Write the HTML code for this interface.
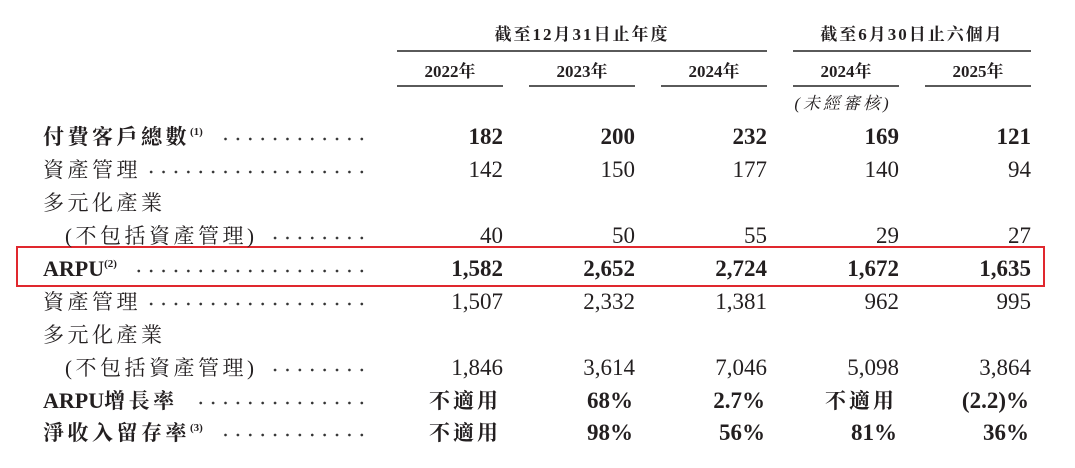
<!DOCTYPE html>
<html><head><meta charset="utf-8">
<style>
body{margin:0;background:#fff;}
#c{position:relative;width:1075px;height:468px;overflow:hidden;background:#fff;color:#231f20;font-family:"Liberation Serif","Noto Serif CJK SC",serif;}
.t{position:absolute;white-space:nowrap;line-height:30px;height:30px;}
.n{position:absolute;white-space:nowrap;line-height:30px;height:30px;text-align:right;width:130px;font-size:23px;}
.b{font-weight:bold;}
.l{font-size:21px;letter-spacing:3.5px;}
.ln{position:absolute;height:2px;background:#5a5a5a;}
.d{position:absolute;height:30px;background-image:radial-gradient(circle,#333 1.1px,transparent 1.6px);background-size:12.4px 30px;background-repeat:repeat-x;background-position:right 2px;}
sup{font-size:11px;letter-spacing:0;vertical-align:9px;line-height:0;}
.h{font-size:17px;font-weight:bold;text-align:center;}
.la{letter-spacing:0;font-size:22px;}
</style></head><body><div id="c">
<div class="t h" style="left:397px;width:370px;top:20px;letter-spacing:2px;">截至12月31日止年度</div>
<div class="t h" style="left:793px;width:238px;top:20px;letter-spacing:2px;">截至6月30日止六個月</div>
<div class="ln" style="left:397px;width:370px;top:50px;"></div>
<div class="ln" style="left:793px;width:238px;top:50px;"></div>
<div class="t h" style="left:397px;width:106px;top:57px;">2022年</div>
<div class="t h" style="left:529px;width:106px;top:57px;">2023年</div>
<div class="t h" style="left:661px;width:106px;top:57px;">2024年</div>
<div class="t h" style="left:793px;width:106px;top:57px;">2024年</div>
<div class="t h" style="left:925px;width:106px;top:57px;">2025年</div>
<div class="ln" style="left:397px;width:106px;top:85px;"></div>
<div class="ln" style="left:529px;width:106px;top:85px;"></div>
<div class="ln" style="left:661px;width:106px;top:85px;"></div>
<div class="ln" style="left:793px;width:106px;top:85px;"></div>
<div class="ln" style="left:925px;width:106px;top:85px;"></div>
<div class="t" style="left:790px;width:106px;top:89px;text-align:center;font-size:17px;font-style:italic;letter-spacing:3px;">(未經審核)</div>

<div style="position:absolute;left:16px;top:246px;width:1025px;height:37px;border:2px solid #e0282e;"></div>

<div class="t l b" style="left:43px;top:122px;">付費客戶總數<sup>(1)</sup></div><div class="d" style="left:218px;width:150px;top:122px;"></div>
<div class="t l" style="left:43px;top:155px;">資產管理</div><div class="d" style="left:143px;width:225px;top:155px;"></div>
<div class="t l" style="left:43px;top:188px;">多元化產業</div>
<div class="t l" style="left:65px;top:221px;">(不包括資產管理)</div><div class="d" style="left:272px;width:96px;top:221px;"></div>
<div class="t l b" style="left:43px;top:254px;"><span class="la">ARPU</span><sup>(2)</sup></div><div class="d" style="left:128px;width:240px;top:254px;"></div>
<div class="t l" style="left:43px;top:287px;">資產管理</div><div class="d" style="left:143px;width:225px;top:287px;"></div>
<div class="t l" style="left:43px;top:320px;">多元化產業</div>
<div class="t l" style="left:65px;top:353px;">(不包括資產管理)</div><div class="d" style="left:272px;width:96px;top:353px;"></div>
<div class="t l b" style="left:43px;top:386px;"><span class="la">ARPU</span>增長率</div><div class="d" style="left:190px;width:178px;top:386px;"></div>
<div class="t l b" style="left:43px;top:418px;">淨收入留存率<sup>(3)</sup></div><div class="d" style="left:218px;width:150px;top:418px;"></div>

<div class="n b" style="left:373px;top:122px;">182</div>
<div class="n b" style="left:505px;top:122px;">200</div>
<div class="n b" style="left:637px;top:122px;">232</div>
<div class="n b" style="left:769px;top:122px;">169</div>
<div class="n b" style="left:901px;top:122px;">121</div>

<div class="n" style="left:373px;top:155px;">142</div>
<div class="n" style="left:505px;top:155px;">150</div>
<div class="n" style="left:637px;top:155px;">177</div>
<div class="n" style="left:769px;top:155px;">140</div>
<div class="n" style="left:901px;top:155px;">94</div>

<div class="n" style="left:373px;top:221px;">40</div>
<div class="n" style="left:505px;top:221px;">50</div>
<div class="n" style="left:637px;top:221px;">55</div>
<div class="n" style="left:769px;top:221px;">29</div>
<div class="n" style="left:901px;top:221px;">27</div>

<div class="n b" style="left:373px;top:254px;">1,582</div>
<div class="n b" style="left:505px;top:254px;">2,652</div>
<div class="n b" style="left:637px;top:254px;">2,724</div>
<div class="n b" style="left:769px;top:254px;">1,672</div>
<div class="n b" style="left:901px;top:254px;">1,635</div>

<div class="n" style="left:373px;top:287px;">1,507</div>
<div class="n" style="left:505px;top:287px;">2,332</div>
<div class="n" style="left:637px;top:287px;">1,381</div>
<div class="n" style="left:769px;top:287px;">962</div>
<div class="n" style="left:901px;top:287px;">995</div>

<div class="n" style="left:373px;top:353px;">1,846</div>
<div class="n" style="left:505px;top:353px;">3,614</div>
<div class="n" style="left:637px;top:353px;">7,046</div>
<div class="n" style="left:769px;top:353px;">5,098</div>
<div class="n" style="left:901px;top:353px;">3,864</div>

<div class="n b" style="left:371px;top:386px;font-size:21px;letter-spacing:3px;">不適用</div>
<div class="n b" style="left:503px;top:386px;">68%</div>
<div class="n b" style="left:635px;top:386px;">2.7%</div>
<div class="n b" style="left:767px;top:386px;font-size:21px;letter-spacing:3px;">不適用</div>
<div class="n b" style="left:899px;top:386px;">(2.2)%</div>

<div class="n b" style="left:371px;top:418px;font-size:21px;letter-spacing:3px;">不適用</div>
<div class="n b" style="left:503px;top:418px;">98%</div>
<div class="n b" style="left:635px;top:418px;">56%</div>
<div class="n b" style="left:767px;top:418px;">81%</div>
<div class="n b" style="left:899px;top:418px;">36%</div>
</div></body></html>
